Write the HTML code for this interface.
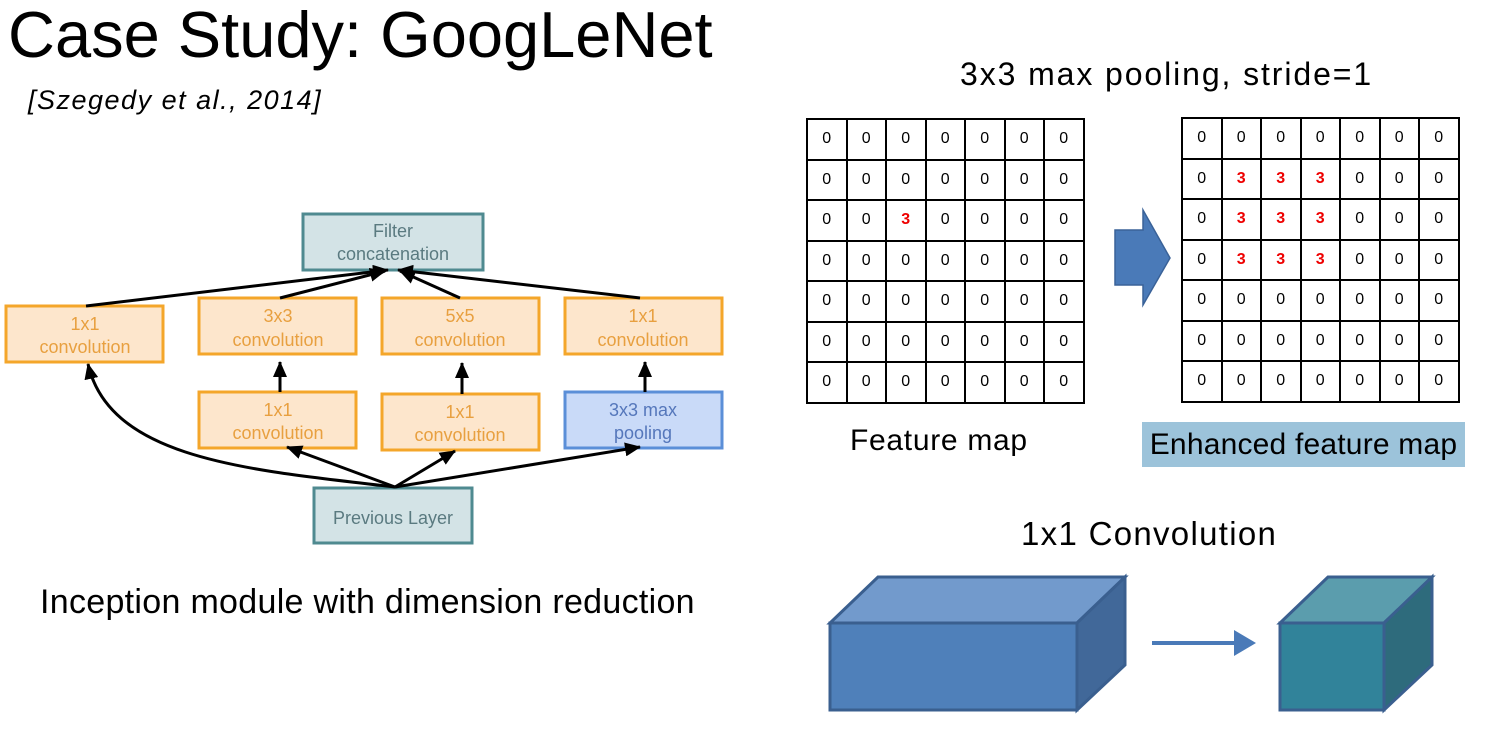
<!DOCTYPE html>
<html><head><meta charset="utf-8"><style>
body{margin:0;width:1485px;height:733px;background:#fff;position:relative;overflow:hidden;font-family:"Liberation Sans",sans-serif}
.t{position:absolute;white-space:nowrap}
table{position:absolute;border-collapse:collapse}
td{border:2px solid #000;width:37.5px;height:38.5px;text-align:center;font-size:16px;padding:0}
td.r{color:#e00;font-weight:bold}
</style></head><body>
<div class="t" style="left:8px;top:-3px;font-size:65px">Case Study: GoogLeNet</div>
<div class="t" style="left:28px;top:85px;font-size:27px;font-style:italic;letter-spacing:1.5px">[Szegedy et al., 2014]</div>
<div class="t" style="left:40px;top:583px;font-size:34px;letter-spacing:0.3px">Inception module with dimension reduction</div>
<div class="t" style="left:960px;top:56px;font-size:32px;letter-spacing:1.9px">3x3 max pooling, stride=1</div>
<div class="t" style="left:850px;top:424px;font-size:30px;letter-spacing:0.7px">Feature map</div>
<div class="t" style="left:1142px;top:422px;width:323px;height:45px;background:#9cc3da;font-size:30px;line-height:45px;text-align:center;letter-spacing:0.2px">Enhanced feature map</div>
<div class="t" style="left:1021px;top:515px;font-size:33px;letter-spacing:1.3px">1x1 Convolution</div>

<table style="left:806px;top:118px">
<tr><td>0</td><td>0</td><td>0</td><td>0</td><td>0</td><td>0</td><td>0</td></tr>
<tr><td>0</td><td>0</td><td>0</td><td>0</td><td>0</td><td>0</td><td>0</td></tr>
<tr><td>0</td><td>0</td><td class="r">3</td><td>0</td><td>0</td><td>0</td><td>0</td></tr>
<tr><td>0</td><td>0</td><td>0</td><td>0</td><td>0</td><td>0</td><td>0</td></tr>
<tr><td>0</td><td>0</td><td>0</td><td>0</td><td>0</td><td>0</td><td>0</td></tr>
<tr><td>0</td><td>0</td><td>0</td><td>0</td><td>0</td><td>0</td><td>0</td></tr>
<tr><td>0</td><td>0</td><td>0</td><td>0</td><td>0</td><td>0</td><td>0</td></tr>
</table>
<table style="left:1181px;top:117px">
<tr><td>0</td><td>0</td><td>0</td><td>0</td><td>0</td><td>0</td><td>0</td></tr>
<tr><td>0</td><td class="r">3</td><td class="r">3</td><td class="r">3</td><td>0</td><td>0</td><td>0</td></tr>
<tr><td>0</td><td class="r">3</td><td class="r">3</td><td class="r">3</td><td>0</td><td>0</td><td>0</td></tr>
<tr><td>0</td><td class="r">3</td><td class="r">3</td><td class="r">3</td><td>0</td><td>0</td><td>0</td></tr>
<tr><td>0</td><td>0</td><td>0</td><td>0</td><td>0</td><td>0</td><td>0</td></tr>
<tr><td>0</td><td>0</td><td>0</td><td>0</td><td>0</td><td>0</td><td>0</td></tr>
<tr><td>0</td><td>0</td><td>0</td><td>0</td><td>0</td><td>0</td><td>0</td></tr>
</table>

<svg width="1485" height="733" style="position:absolute;left:0;top:0">
<defs>
<marker id="b" markerWidth="16" markerHeight="14" refX="15" refY="7" orient="auto" markerUnits="userSpaceOnUse"><path d="M0,0 L16,7 L0,14 z" fill="#000"/></marker></defs>
<path d="M1115,230 L1143,230 L1143,210 L1170,258 L1143,305 L1143,285 L1115,285 z" fill="#4a7ab8" stroke="#3a6298" stroke-width="1.5"/>
<g stroke-width="3" font-size="18" text-anchor="middle" font-family="Liberation Sans,sans-serif">
<rect x="303" y="214" width="180" height="56" fill="#d3e3e6" stroke="#4f8a90"/>
<text x="393" y="237" fill="#5a7a80">Filter</text><text x="393" y="260" fill="#5a7a80">concatenation</text>
<g fill="#fde6cc" stroke="#f4a62a">
<rect x="6" y="306" width="157" height="56"/><rect x="199" y="298" width="157" height="56"/><rect x="382" y="298" width="157" height="56"/><rect x="565" y="298" width="157" height="56"/>
<rect x="199" y="392" width="157" height="56"/><rect x="382" y="394" width="157" height="56"/></g>
<rect x="565" y="392" width="157" height="56" fill="#c9daf8" stroke="#5b8fd8"/>
<rect x="314" y="488" width="158" height="55" fill="#d3e3e6" stroke="#4f8a90"/>
<g fill="#e8a040">
<text x="85" y="330">1x1</text><text x="85" y="353">convolution</text>
<text x="278" y="322">3x3</text><text x="278" y="346">convolution</text>
<text x="460" y="322">5x5</text><text x="460" y="346">convolution</text>
<text x="643" y="322">1x1</text><text x="643" y="346">convolution</text>
<text x="278" y="416">1x1</text><text x="278" y="439">convolution</text>
<text x="460" y="418">1x1</text><text x="460" y="441">convolution</text></g>
<text x="643" y="416" fill="#5577bb">3x3 max</text><text x="643" y="439" fill="#5577bb">pooling</text>
<text x="393" y="524" fill="#5a7a80">Previous Layer</text>
</g>
<g stroke="#000" stroke-width="3" fill="none" marker-end="url(#b)">
<line x1="86" y1="306" x2="388" y2="270"/>
<line x1="280" y1="298" x2="385" y2="271"/>
<line x1="460" y1="298" x2="400" y2="271"/>
<line x1="640" y1="298" x2="398" y2="270"/>
<line x1="280" y1="392" x2="280" y2="362"/>
<line x1="462" y1="394" x2="462" y2="363"/>
<line x1="645" y1="392" x2="645" y2="362"/>
<path d="M395,487 C250,470 110,460 88,364"/>
<line x1="395" y1="487" x2="287" y2="447"/>
<line x1="395" y1="487" x2="455" y2="451"/>
<line x1="395" y1="487" x2="640" y2="447"/>
</g>
<g stroke="#3a5f8f" stroke-width="3">
<path d="M830,623 L878,577 L1125,577 L1077,623 z" fill="#729acc"/>
<path d="M1077,623 L1125,577 L1125,665 L1077,710 z" fill="#416899"/>
<rect x="830" y="623" width="247" height="87" fill="#4f80ba"/>
<path d="M1280,623 L1328,577 L1432,577 L1384,623 z" fill="#5b9dad"/>
<path d="M1384,623 L1432,577 L1432,665 L1384,710 z" fill="#2e6b7c"/>
<rect x="1280" y="623" width="104" height="87" fill="#31839a"/>
</g>
<line x1="1152" y1="643" x2="1236" y2="643" stroke="#4a7ab8" stroke-width="4"/>
<path d="M1234,630 L1256,643 L1234,656 z" fill="#4a7ab8"/>
</svg>
</body></html>
